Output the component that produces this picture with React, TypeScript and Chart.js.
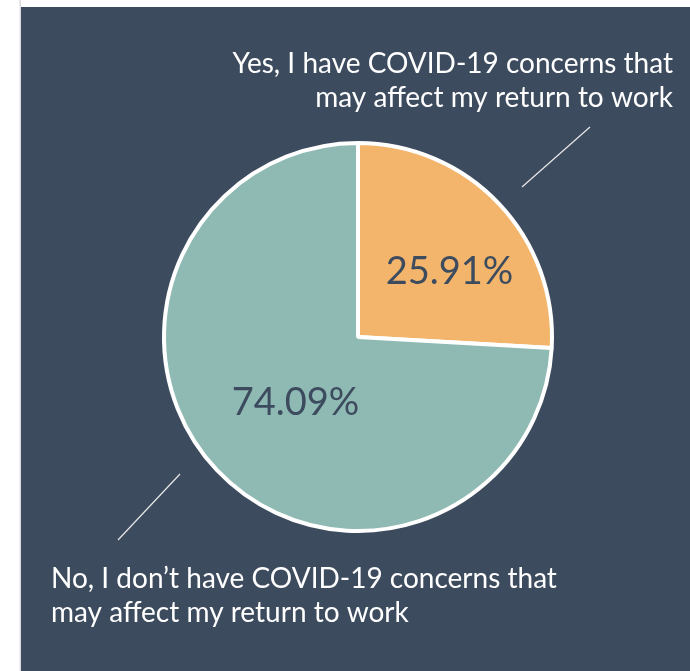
import React, { useEffect, useRef } from "react";
import { Chart, registerables } from "chart.js";

Chart.register(...registerables);

const categories = [
  "Yes, I have COVID-19 concerns that may affect my return to work",
  "No, I don’t have COVID-19 concerns that may affect my return to work",
];
const values = [25.91, 74.09];
const valueLabels = ["25.91%", "74.09%"];
const topLabelLines = ["Yes, I have COVID-19 concerns that", "may affect my return to work"];
const bottomLabelLines = ["No, I don’t have COVID-19 concerns that", "may affect my return to work"];
const sliceColors = ["#f3b56c", "#8fbab3"];

const BG = "#3d4b5e";
const FONT = "Lato, 'Open Sans', sans-serif";

const decorPlugin = {
  id: "decor",
  beforeDraw(chart: any) {
    const ctx = chart.ctx;
    ctx.save();
    ctx.fillStyle = "#ffffff";
    ctx.fillRect(0, 0, chart.width, chart.height);
    ctx.fillStyle = "#dcdcdc";
    ctx.fillRect(19.5, 0, 1.5, chart.height);
    ctx.fillStyle = BG;
    ctx.fillRect(21, 7, chart.width - 21, chart.height - 7);
    ctx.restore();
  },
  afterDraw(chart: any) {
    const ctx = chart.ctx;
    const meta = chart.getDatasetMeta(0);
    const a0 = meta.data[0];
    const a1 = meta.data[1];
    const cx = a0.x;
    const cy = a0.y;
    ctx.save();
    // value labels
    ctx.fillStyle = BG;
    ctx.font = `38px ${FONT}`;
    ctx.textAlign = "center";
    ctx.textBaseline = "middle";
    const offs = [
      [21, 1],
      [8, -1],
    ];
    [a0, a1].forEach((arc: any, i: number) => {
      const p = arc.getCenterPoint();
      ctx.fillText(valueLabels[i], p.x + offs[i][0], p.y + offs[i][1]);
    });
    // leader lines
    ctx.strokeStyle = "#e8e8e8";
    ctx.lineWidth = 1.2;
    ctx.beginPath();
    ctx.moveTo(cx + 164, cy - 150);
    ctx.lineTo(cx + 232, cy - 210);
    ctx.moveTo(cx - 178, cy + 137);
    ctx.lineTo(cx - 240, cy + 203);
    ctx.stroke();
    // outside labels
    ctx.fillStyle = "#ffffff";
    ctx.font = `28px ${FONT}`;
    ctx.textBaseline = "alphabetic";
    ctx.textAlign = "right";
    ctx.fillText(topLabelLines[0], 673, 73);
    ctx.fillText(topLabelLines[1], 673, 107);
    ctx.textAlign = "left";
    ctx.fillText(bottomLabelLines[0], 51, 588);
    ctx.fillText(bottomLabelLines[1], 51, 622);
    ctx.restore();
  },
};

export default function App() {
  const ref = useRef<HTMLCanvasElement | null>(null);
  useEffect(() => {
    if (!ref.current) return;
    const chart = new Chart(ref.current, {
      type: "pie",
      data: {
        labels: categories,
        datasets: [
          {
            data: values,
            backgroundColor: sliceColors,
            borderColor: "#ffffff",
            borderWidth: 4,
          },
        ],
      },
      options: {
        responsive: false,
        animation: false,
        radius: 194,
        layout: { padding: { left: 26, right: 0, top: 3, bottom: 0 } },
        plugins: {
          legend: { display: false },
          tooltip: { enabled: false },
        },
      } as any,
      plugins: [decorPlugin],
    });
    return () => chart.destroy();
  }, []);
  return (
    <div style={{ position: "absolute", left: 0, top: 0, width: 690, height: 671 }}>
      <canvas ref={ref} width={690} height={671} style={{ width: 690, height: 671, display: "block" }} />
    </div>
  );
}
